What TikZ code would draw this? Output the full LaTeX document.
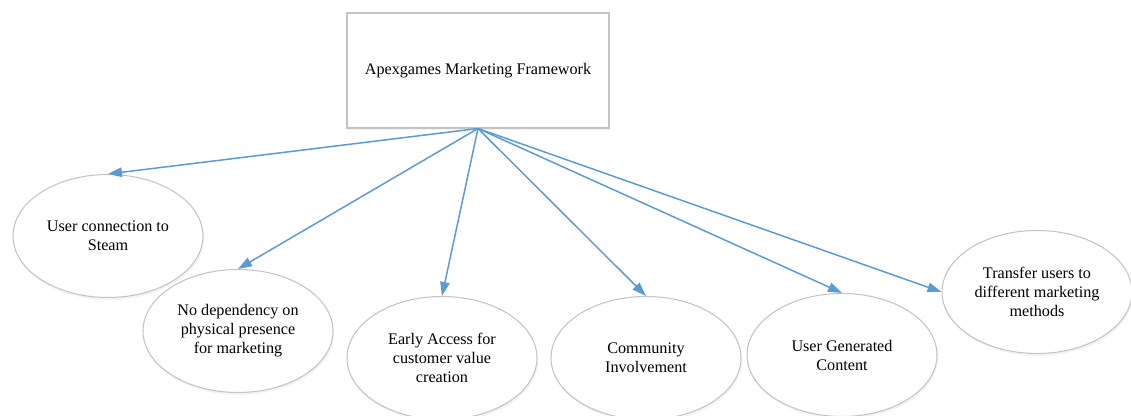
\documentclass[tikz,border=0pt]{standalone}
\usepackage{fontspec}
\setmainfont{Liberation Serif}
\usetikzlibrary{shapes.geometric,arrows.meta,shadows}

\definecolor{linkblue}{RGB}{91,155,213}
\definecolor{rimgray}{RGB}{196,196,196}

\begin{document}
\begin{tikzpicture}[
		soft/.style={drop shadow={fill=linkblue!30, opacity=0.35, shadow xshift=0.02cm, shadow yshift=-0.05cm}},
		frame/.style={draw=rimgray, fill=white, soft, line width=0.6pt, minimum width=5.24cm, minimum height=2.3cm, font=\fontsize{9.2}{10.8}\selectfont},
		idea/.style={ellipse, draw=rimgray, fill=white, soft, line width=0.6pt, inner sep=0pt, minimum width=3.8cm, minimum height=2.46cm, align=center, font=\fontsize{9.2}{10.8}\selectfont},
		link/.style={draw=linkblue, line width=0.85pt, -{Triangle[length=0.28cm,width=0.19cm]}}
	]
		\useasboundingbox (0,0) rectangle (22.62,8.32) ;

		\node[frame] (top) at (9.56,6.91) {\raisebox{-0.06cm}{Apexgames Marketing Framework}} ;

		\node[idea] (steam) at (2.16,3.6) {User connection to\\Steam} ;
		\node[idea] (nodep) at (4.76,1.7) {No dependency on\\physical presence\\for marketing} ;
		\node[idea] (early) at (8.84,1.16) {Early Access for\\customer value\\creation} ;
		\node[idea] (comm) at (12.92,1.16) {Community\\Involvement} ;
		\node[idea] (ugc) at (16.84,1.22) {User Generated\\Content} ;
		\node[idea] (transfer) at (20.74,2.48) {Transfer users to\\different marketing\\methods} ;

		\draw[link] (top.south) -- (steam.north) ;
		\draw[link] (top.south) -- (nodep.north) ;
		\draw[link] (top.south) -- (early.north) ;
		\draw[link] (top.south) -- (comm.north) ;
		\draw[link] (top.south) -- (ugc.north) ;
		\draw[link] (top.south) -- (transfer.west) ;
	\end{tikzpicture}
\end{document}
